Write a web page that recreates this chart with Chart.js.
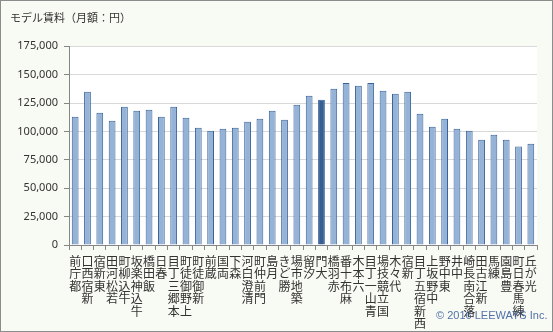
<!DOCTYPE html>
<html>
<head>
<meta charset="utf-8">
<script src="https://cdn.jsdelivr.net/npm/chart.js@4.4.0/dist/chart.umd.min.js"></script>
<style>
  html, body { margin: 0; padding: 0; background: #f8faf4; }
  #wrap { width: 553px; height: 332px; }
</style>
</head>
<body>
<div id="wrap"><canvas id="rentChart" width="553" height="332"></canvas></div>
<script>
// 都営大江戸線 駅別モデル賃料
const stations = ['都庁前', '新宿西口', '東新宿', '若松河田', '牛込柳町', '牛込神楽坂', '飯田橋', '春日',
    '本郷三丁目', '上野御徒町', '新御徒町', '蔵前', '両国', '森下', '清澄白河', '門前仲町', '月島', '勝どき',
    '築地市場', '汐留', '大門', '赤羽橋', '麻布十番', '六本木', '青山一丁目', '国立競技場', '代々木', '新宿',
    '西新宿五丁目', '中野坂上', '東中野', '中井', '落合南長崎', '新江古田', '練馬', '豊島園', '練馬春日町', '光が丘'];
const rents = [112900, 134800, 116400, 109400, 121700, 118200, 119000, 112900,
    121700, 112000, 103200, 100600, 102400, 103200, 108500, 111100, 118200, 110300,
    123400, 131300, 127800, 137500, 142700, 140100, 142700, 135700, 133100, 134800,
    115500, 104100, 111100, 102400, 100600, 92700, 97100, 92700, 86600, 89200];
const highlightStation = '大門';
const yTicks = [0, 25000, 50000, 75000, 100000, 125000, 150000, 175000];

// 縦書き風: 文字を逆順に積む（下から上へ読む）
const stackedLabels = stations.map(s => s.split('').reverse());
const fills = stations.map(s => s === highlightStation ? '#376092' : '#95b3d7');

const backdrop = {
    id: 'backdrop',
    beforeDraw(chart) {
        const { ctx, chartArea: a, width, height } = chart;
        ctx.save();
        ctx.fillStyle = '#f8faf4';
        ctx.fillRect(0, 0, width, height);
        ctx.fillStyle = '#ffffff';
        ctx.fillRect(a.left, a.top, a.right - a.left, a.bottom - a.top);
        ctx.restore();
    },
    afterDraw(chart) {
        const { ctx, width, height } = chart;
        ctx.save();
        ctx.font = '11px "Liberation Sans", Arial, sans-serif';
        ctx.fillStyle = 'rgba(52, 88, 156, 0.85)';
        ctx.textBaseline = 'middle';
        ctx.fillText('© 2016 LEEWAYS Inc.', 436, 316);
        ctx.strokeStyle = '#8c8c8c';
        ctx.lineWidth = 1;
        ctx.strokeRect(0.5, 0.5, width - 1, height - 1);
        ctx.restore();
    }
};

const ctx = document.getElementById('rentChart').getContext('2d');
new Chart(ctx, {
    type: 'bar',
    data: {
        labels: stackedLabels,
        datasets: [{
            data: rents,
            backgroundColor: fills,
            borderColor: '#3a6298',
            borderWidth: 1,
            barPercentage: 0.55,
            categoryPercentage: 1
        }]
    },
    options: {
        responsive: false,
        animation: false,
        layout: { padding: { left: 10, right: 16, top: 0, bottom: 0 } },
        plugins: {
            legend: { display: false },
            tooltip: { enabled: false },
            title: {
                display: true,
                text: 'モデル賃料（月額：円）',
                align: 'start',
                color: '#333333',
                font: { family: '"Noto Sans CJK JP", sans-serif', size: 11, weight: 'normal' },
                padding: { top: 11, bottom: 22 }
            }
        },
        scales: {
            x: {
                grid: {
                    drawOnChartArea: false,
                    drawTicks: true,
                    tickLength: 5,
                    color: '#868686'
                },
                border: { color: '#868686' },
                ticks: {
                    autoSkip: false,
                    maxRotation: 0,
                    minRotation: 0,
                    padding: 5,
                    color: '#333333',
                    font: { family: '"Noto Sans CJK JP", sans-serif', size: 12, lineHeight: '12.5px' }
                },
                afterFit(scale) { scale.height = 87; }
            },
            y: {
                min: 0,
                max: 175000,
                afterBuildTicks(scale) { scale.ticks = yTicks.map(v => ({ value: v })); },
                grid: {
                    color: '#d9d9d9',
                    tickColor: '#868686',
                    tickLength: 5
                },
                border: { color: '#868686' },
                ticks: {
                    padding: 6,
                    color: '#333333',
                    font: { family: '"Noto Sans", sans-serif', size: 11 },
                    callback: v => v.toLocaleString('en-US')
                },
                afterFit(scale) { scale.width = 59; }
            }
        }
    },
    plugins: [backdrop]
});
</script>
</body>
</html>
